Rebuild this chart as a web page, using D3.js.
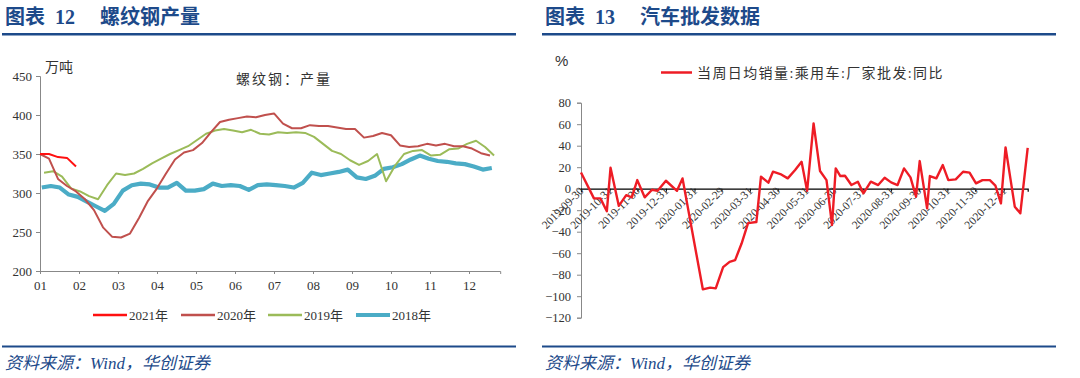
<!DOCTYPE html>
<html>
<head>
<meta charset="utf-8">
<script src="https://cdn.jsdelivr.net/npm/d3@7/dist/d3.min.js"></script>
<style>
body{margin:0;background:#fff;}
svg{display:block;}
text{font-family:"Liberation Serif","Noto Sans CJK SC",serif;fill:#333;}
.head{font-weight:bold;fill:#1d4a8a;font-size:20px;}
.src{font-style:italic;fill:#1d4a8a;font-size:17px;}
</style>
</head>
<body>
<svg id="chart" width="1080" height="378"></svg>
<script>
// ---- 图表12 螺纹钢产量 (weekly, 万吨) ----
var monthLabels = ["01","02","03","04","05","06","07","08","09","10","11","12"];
var rebarTicks = [200,250,300,350,400,450];
var rebar2021 = [350,350,346,345,334];
var rebar2020 = [350,344,318,309,302,292,278,256,244,243,248,268,290,306,325,343,352,355,364,378,
                 391,394,396,398,397,400,402,389,383,383,387,386,386,384,382,382,371,373,377,374,
                 361,359,360,363,361,363,360,360,357,351,348];
var rebar2019 = [326,328,321,306,302,296,292,310,325,323,325,331,338,344,350,355,360,368,376,380,
                 382,380,378,381,376,375,378,377,378,377,372,363,354,350,342,336,341,350,315,335,
                 350,354,355,348,349,356,357,363,367,359,348];
var rebar2018 = [307,309,307,298,295,289,283,277,286,303,310,312,311,307,307,313,303,303,305,312,
                 309,310,309,304,310,311,310,309,307,313,326,323,325,327,330,320,318,322,331,333,
                 337,343,348,344,341,340,338,337,334,330,332];
var rebarNames = ["2021年","2020年","2019年","2018年"];

// ---- 图表13 汽车批发数据 (当周日均销量:乘用车:厂家批发:同比, %) ----
var carDates = ["2019-09-30","2019-10-14","2019-10-21","2019-10-28","2019-11-01","2019-11-10","2019-11-18",
  "2019-11-24","2019-11-30","2019-12-08","2019-12-16","2019-12-22","2019-12-31","2020-01-12","2020-01-18",
  "2020-02-09","2020-02-17","2020-02-23","2020-03-02","2020-03-09","2020-03-15","2020-03-22","2020-03-29",
  "2020-04-07","2020-04-12","2020-04-20","2020-04-25","2020-05-03","2020-05-11","2020-05-19","2020-05-26",
  "2020-06-01","2020-06-08","2020-06-15","2020-06-22","2020-06-28","2020-07-02","2020-07-07","2020-07-12",
  "2020-07-19","2020-07-26","2020-08-01","2020-08-09","2020-08-17","2020-08-24","2020-08-31","2020-09-07",
  "2020-09-14","2020-09-21","2020-09-27","2020-10-01","2020-10-09","2020-10-12","2020-10-19","2020-10-26",
  "2020-11-01","2020-11-09","2020-11-17","2020-11-24","2020-12-01","2020-12-08","2020-12-16","2020-12-22",
  "2020-12-28","2021-01-02","2021-01-12","2021-01-18","2021-01-26"];
var carYoY = [15,-9,-9,-21,19.5,-16,-6,-8,8,-8,-1,-2,7.4,-2,9.6,
  -93.6,-92,-92.7,-73,-68,-66.4,-51,-32,
  -31,11.2,5.6,15.8,13.6,9.6,17.4,25,
  -2,60.8,16.4,8,-33.8,18.9,11.8,12,
  3.4,6.5,-4.3,6.5,3.4,10.2,5.9,3.4,
  18.9,10.5,-7.4,25.7,-18.3,11.8,9.6,22,
  8,8.7,15.8,14.9,5,8,8,2.8,
  -13.6,38.4,-16.7,-22.9,38];
var carTicks = ["2019-09-30","2019-10-31","2019-11-30","2019-12-31","2020-01-31","2020-02-29","2020-03-31",
  "2020-04-30","2020-05-31","2020-06-30","2020-07-31","2020-08-31","2020-09-30","2020-10-31","2020-11-30","2020-12-31"];
var carYTicks = [80,60,40,20,0,-20,-40,-60,-80,-100,-120];
var carLegend = "当周日均销量:乘用车:厂家批发:同比";

var svg = d3.select("#chart");
var parse = d3.timeParse("%Y-%m-%d");

// headers, rules and sources for both panels
function frame(x0, num, title){
  svg.append("text").attr("class","head").attr("x",x0+3).attr("y",24).text("图表");
  svg.append("text").attr("class","head").attr("x",x0+53).attr("y",24).text(num);
  svg.append("text").attr("class","head").attr("x",x0+98).attr("y",24).text(title);
  svg.append("rect").attr("x",x0).attr("y",33).attr("width",514).attr("height",2.5).attr("fill","#1d4a8a");
  svg.append("rect").attr("x",x0).attr("y",345.5).attr("width",514).attr("height",2).attr("fill","#1d4a8a");
  svg.append("text").attr("class","src").attr("x",x0+3).attr("y",369).text("资料来源：Wind，华创证券");
}
frame(2, "12", "螺纹钢产量");
frame(542, "13", "汽车批发数据");

// ---------- left chart ----------
var xL = d3.scaleLinear().domain([0, 11.8]).range([40, 500.2]);
var yL = d3.scaleLinear().domain([200, 450]).range([271, 76]);
var wk = function(w){ return w*12/52; };

var gL = svg.append("g");
var axL = gL.append("g").attr("transform","translate(40,0)")
  .call(d3.axisLeft(yL).tickValues(rebarTicks).tickSize(4).tickPadding(4));
var axB = gL.append("g").attr("transform","translate(0,271)")
  .call(d3.axisBottom(xL).tickValues(d3.range(12)).tickSize(3).tickPadding(7)
        .tickFormat(function(d){ return monthLabels[d]; }));
[axL, axB].forEach(function(a){
  a.select(".domain").attr("stroke","#888");
  a.selectAll(".tick line").attr("stroke","#888");
  a.selectAll("text").attr("fill","#333").style("font-size","13px").style("font-family","Liberation Serif");
});

var series = [
  {data: rebar2018, off: 0.2,  color: "#4bacc6", w: 4.2},
  {data: rebar2019, off: 0.45, color: "#9bbb59", w: 2},
  {data: rebar2020, off: 0,    color: "#c0504d", w: 2},
  {data: rebar2021, off: 0,    color: "#ff1010", w: 2}
];
series.forEach(function(s){
  var line = d3.line().x(function(d,i){ return xL(wk(i + s.off)); }).y(function(d){ return yL(d); });
  gL.append("path").datum(s.data).attr("d", line).attr("fill","none")
    .attr("stroke", s.color).attr("stroke-width", s.w).attr("stroke-linejoin","round");
});

gL.append("text").attr("x",45).attr("y",72).style("font-size","14px").attr("fill","#222").text("万吨");
gL.append("text").attr("x",236).attr("y",84).style("font-size","14px").style("letter-spacing","2px")
  .attr("fill","#222").text("螺纹钢：产量");

var legL = [
  {name: rebarNames[0], color: "#ff1010", w: 2.5, x: 93},
  {name: rebarNames[1], color: "#c0504d", w: 2.5, x: 181},
  {name: rebarNames[2], color: "#9bbb59", w: 2.5, x: 268},
  {name: rebarNames[3], color: "#4bacc6", w: 4.2, x: 356}
];
legL.forEach(function(l){
  gL.append("line").attr("x1",l.x).attr("x2",l.x+34).attr("y1",315).attr("y2",315)
    .attr("stroke",l.color).attr("stroke-width",l.w);
  gL.append("text").attr("x",l.x+36).attr("y",319.5).style("font-size","13px").text(l.name);
});

// ---------- right chart ----------
var xR = d3.scaleTime().domain([parse("2019-09-30"), parse("2021-01-26")]).range([581, 1027.7]);
var yR = d3.scaleLinear().domain([-120, 80]).range([317.7, 102.7]);

var gR = svg.append("g");
var axR = gR.append("g").attr("transform","translate(581,0)")
  .call(d3.axisLeft(yR).tickValues(carYTicks).tickSize(4).tickPadding(6));
axR.select(".domain").attr("stroke","#888");
axR.selectAll(".tick line").attr("stroke","#888");
axR.selectAll("text").attr("fill","#333").style("font-size","12.5px");

var axZ = gR.append("g").attr("transform","translate(0," + yR(0) + ")")
  .call(d3.axisBottom(xR).tickValues(carTicks.map(parse)).tickSizeOuter(0).tickSize(3)
        .tickFormat(d3.timeFormat("%Y-%m-%d")));
axZ.select(".domain").attr("stroke","#000").attr("stroke-width",1.2);
axZ.selectAll(".tick line").attr("stroke","#000");
axZ.selectAll("text").attr("fill","#444").style("font-size","11.5px")
  .attr("x",0).attr("y",0).attr("dy","0.35em")
  .attr("transform","rotate(-45)").style("text-anchor","end");

var carLine = d3.line().x(function(d,i){ return xR(parse(carDates[i])); }).y(function(d){ return yR(d); });
gR.append("path").datum(carYoY).attr("d", carLine).attr("fill","none")
  .attr("stroke","#ee1c25").attr("stroke-width",2.4).attr("stroke-linejoin","round");

gR.append("text").attr("x",555).attr("y",66).style("font-size","15px")
  .style("font-family","Liberation Sans").attr("fill","#222").text("%");
gR.append("line").attr("x1",661).attr("x2",692).attr("y1",72.5).attr("y2",72.5)
  .attr("stroke","#ee1c25").attr("stroke-width",2.5);
gR.append("text").attr("x",697).attr("y",77.5).style("font-size","14px").style("letter-spacing","1.4px")
  .attr("fill","#444").text(carLegend);
</script>
</body>
</html>
